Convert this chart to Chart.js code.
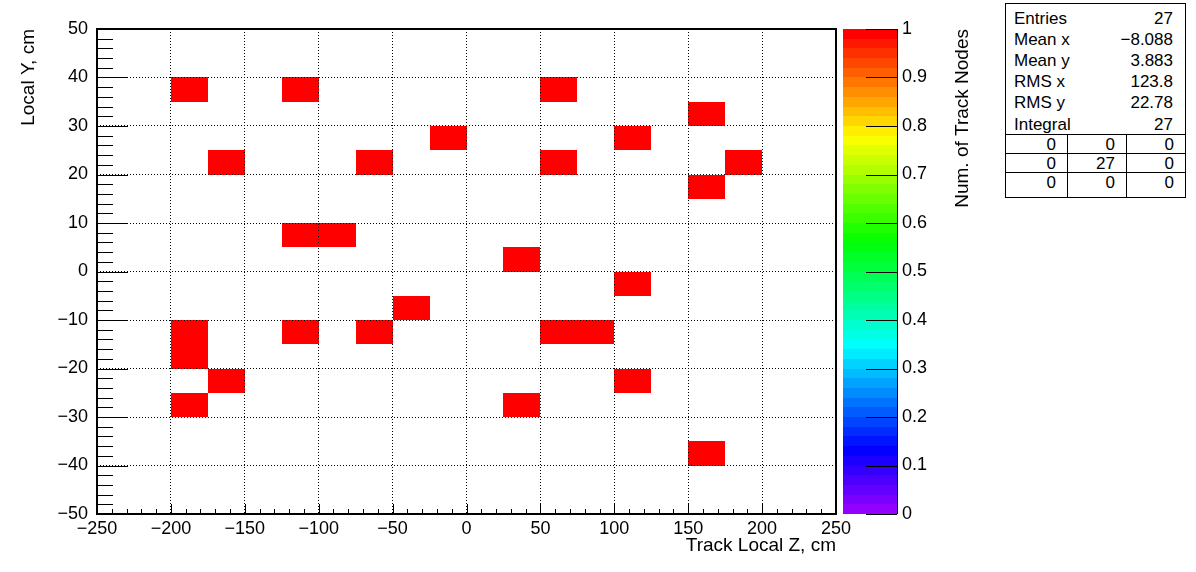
<!DOCTYPE html>
<html lang="en">
<head>
<meta charset="UTF-8">
<title>Track nodes, local Y vs Z</title>
<script src="https://cdn.jsdelivr.net/npm/chart.js@4/dist/chart.umd.min.js"></script>
<style>
  html, body { margin: 0; padding: 0; background: #fff; }
  #wrap { position: relative; width: 1196px; height: 572px; }
  #stats {
    position: absolute; left: 1005px; top: 3px; width: 181px; height: 195px;
    border: 1px solid #000; box-sizing: border-box; background: #fff;
    font-family: "Liberation Sans", Arial, sans-serif; font-size: 17px; color: #000;
  }
  #stats .row { position: absolute; left: 0; right: 0; height: 21px; line-height: 21px; }
  #stats .row .k { position: absolute; left: 8px; }
  #stats .row .v { position: absolute; right: 12px; }
  #stats .cell { position: absolute; box-sizing: border-box; text-align: right; padding-right: 11px; }
</style>
</head>
<body>
<div id="wrap">
  <canvas id="c" width="1196" height="572"></canvas>
  <div id="stats"></div>
</div>
<script>
// binning of the 2D histogram
const binW = 25;   // Z bin width, cm
const binH = 5;    // Y bin width, cm

// lower edges of the filled bins and their contents
const cellZ = [-200, -125, 50, 150, -25, 100, -175, -75, 50, 175, 150, -125, -100, 25, 100, -50,
               -200, -200, -125, -75, 50, 75, -175, 100, -200, 25, 150];
const cellY = [35, 35, 35, 30, 25, 25, 20, 20, 20, 20, 15, 5, 5, 0, -5, -10,
               -15, -20, -15, -15, -15, -15, -25, -25, -30, -30, -40];
const cellCount = [1, 1, 1, 1, 1, 1, 1, 1, 1, 1, 1, 1, 1, 1, 1, 1,
                   1, 1, 1, 1, 1, 1, 1, 1, 1, 1, 1];

// stats box
const statNames = ['Entries', 'Mean x', 'Mean y', 'RMS x', 'RMS y', 'Integral'];
const statValues = ['27', '\u22128.088', '3.883', '123.8', '22.78', '27'];
const overflowGrid = [[0, 0, 0], [0, 27, 0], [0, 0, 0]];

// ROOT "pretty palette": 50 hues from violet to red
const nColors = 50;
const palette = [];
for (let i = 0; i < nColors; i++) palette.push(`hsl(${280 - (i + 1) * 5.6}, 100%, 50%)`);
const zMin = 0, zMax = 1;
function colorFor (v) {
  let i = Math.floor((v - zMin) / (zMax - zMin) * nColors);
  return palette[Math.max(0, Math.min(nColors - 1, i))];
}

const FONT = '"Liberation Sans", Arial, sans-serif';
const minus = v => String(v).replace('-', '\u2212');
// keep label overhang from pushing the plot frame around
const noPad = s => { s.paddingTop = 0; s.paddingBottom = 0; s.paddingLeft = 0; s.paddingRight = 0; };

const rootPlugin = {
  id: 'rootPlugin',
  beforeDatasetsDraw (chart) {
    const { ctx, scales: { x, y } } = chart;
    const ds = chart.data.datasets[0].data;
    ctx.save();
    ds.forEach(p => {
      const x0 = Math.round(x.getPixelForValue(p.x - binW / 2)), x1 = Math.round(x.getPixelForValue(p.x + binW / 2));
      const y0 = Math.round(y.getPixelForValue(p.y + binH / 2)), y1 = Math.round(y.getPixelForValue(p.y - binH / 2));
      ctx.fillStyle = colorFor(p.v);
      ctx.fillRect(x0, y0, x1 - x0, y1 - y0);
    });
    ctx.restore();
  },
  afterDraw (chart) {
    const { ctx, chartArea: a, scales: { x, y, z } } = chart;
    ctx.save();
    ctx.strokeStyle = '#000';
    // ticks pointing into the frame
    ctx.lineWidth = 1;
    ctx.beginPath();
    for (let v = y.min; v <= y.max; v += 2) {
      const py = Math.round(y.getPixelForValue(v)) + 0.5;
      const len = v % 10 === 0 ? 31 : 16;
      ctx.moveTo(a.left, py); ctx.lineTo(a.left + len, py);
    }
    for (let v = x.min; v <= x.max; v += 10) {
      const px = Math.round(x.getPixelForValue(v)) + 0.5;
      const len = v % 50 === 0 ? 10 : 5;
      ctx.moveTo(px, a.bottom); ctx.lineTo(px, a.bottom - len);
    }
    ctx.stroke();
    // frame
    ctx.lineWidth = 2;
    ctx.strokeRect(a.left, a.top, a.right - a.left, a.bottom - a.top);

    // colour bar
    const bx0 = 843, bx1 = 897;
    for (let i = 0; i < nColors; i++) {
      const yTop = Math.round(z.getPixelForValue(zMin + (i + 1) * (zMax - zMin) / nColors));
      const yBot = Math.round(z.getPixelForValue(zMin + i * (zMax - zMin) / nColors));
      ctx.fillStyle = palette[i];
      ctx.fillRect(bx0, yTop, bx1 - bx0, yBot - yTop);
    }
    ctx.lineWidth = 1;
    ctx.beginPath();
    ctx.moveTo(bx1 + 0.5, z.getPixelForValue(zMin)); ctx.lineTo(bx1 + 0.5, z.getPixelForValue(zMax));
    z.ticks.forEach(t => {
      const py = Math.round(z.getPixelForValue(t.value)) + 0.5;
      ctx.moveTo(bx1, py); ctx.lineTo(bx1 - 31, py);
    });
    ctx.stroke();

    // colour bar title
    ctx.fillStyle = '#000';
    ctx.font = '19px ' + FONT;
    ctx.translate(963, a.top);
    ctx.rotate(-Math.PI / 2);
    ctx.textAlign = 'right';
    ctx.textBaseline = 'middle';
    ctx.fillText('Num. of Track Nodes', 0, 0);
    ctx.restore();
  }
};

new Chart(document.getElementById('c'), {
  type: 'scatter',
  data: {
    datasets: [{
      data: cellZ.map((zv, i) => ({ x: zv + binW / 2, y: cellY[i] + binH / 2, v: cellCount[i] })),
      pointRadius: 0
    }]
  },
  options: {
    responsive: false,
    animation: false,
    events: [],
    layout: { autoPadding: false, padding: { top: 29, right: 0, bottom: 0, left: 0 } },
    plugins: { legend: { display: false }, tooltip: { enabled: false } },
    scales: {
      x: {
        type: 'linear', min: -250, max: 250,
        afterFit: s => { s.height = 58; noPad(s); },
        ticks: { stepSize: 50, padding: 4, color: '#000', font: { family: FONT, size: 18 }, maxRotation: 0, autoSkip: false, callback: minus },
        grid: { z: 1, color: '#000', lineWidth: 1, drawTicks: false },
        border: { display: false, dash: [1, 2] },
        title: { display: true, text: 'Track Local Z, cm', align: 'end', color: '#000', font: { family: FONT, size: 19 }, padding: { top: 0, bottom: 15 } }
      },
      y: {
        type: 'linear', min: -50, max: 50,
        afterFit: s => { s.width = 97; noPad(s); },
        ticks: { stepSize: 10, padding: 9, color: '#000', font: { family: FONT, size: 18 }, autoSkip: false, callback: minus },
        grid: { z: 1, color: '#000', lineWidth: 1, drawTicks: false },
        border: { display: false, dash: [1, 2] },
        title: { display: true, text: 'Local Y, cm', align: 'end', color: '#000', font: { family: FONT, size: 19 }, padding: { top: 17, bottom: 0 } }
      },
      z: {
        type: 'linear', axis: 'y', position: 'right', min: zMin, max: zMax,
        afterFit: s => { s.width = 360; noPad(s); },
        ticks: { stepSize: 0.1, padding: 66, color: '#000', font: { family: FONT, size: 18 }, autoSkip: false, callback: v => String(+v.toFixed(1)) },
        grid: { display: false, drawTicks: false },
        border: { display: false }
      }
    }
  },
  plugins: [rootPlugin]
});

// stats box as text
const stats = document.getElementById('stats');
statNames.forEach((n, i) => {
  const r = document.createElement('div');
  r.className = 'row';
  r.style.top = (3.5 + i * 21.2) + 'px';
  r.innerHTML = `<span class="k">${n}</span><span class="v">${statValues[i]}</span>`;
  stats.appendChild(r);
});
const colX = [0, 61, 120, 179];
const rowY = [130, 149, 168, 193];
overflowGrid.forEach((row, ri) => {
  row.forEach((v, ci) => {
    const c = document.createElement('div');
    c.className = 'cell';
    c.style.left = colX[ci] + 'px';
    c.style.top = rowY[ri] + 'px';
    c.style.width = (colX[ci + 1] - colX[ci]) + 'px';
    c.style.height = (rowY[ri + 1] - rowY[ri]) + 'px';
    c.style.lineHeight = '19px';
    c.style.borderTop = '1px solid #000';
    if (ci > 0) c.style.borderLeft = '1px solid #000';
    c.textContent = v;
    stats.appendChild(c);
  });
});
</script>
</body>
</html>
